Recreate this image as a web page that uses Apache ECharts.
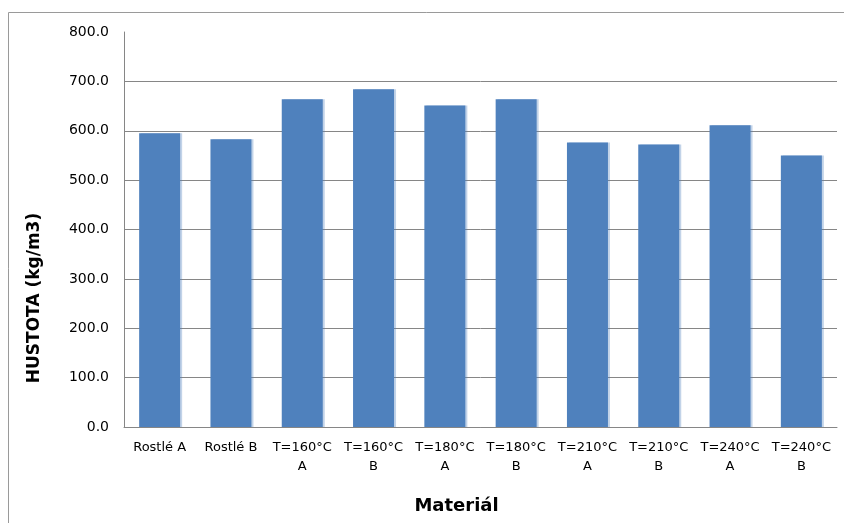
<!DOCTYPE html>
<html>
<head>
<meta charset="utf-8">
<script src="https://cdn.jsdelivr.net/npm/echarts@6/dist/echarts.min.js"></script>
<style>
html, body { margin: 0; padding: 0; background: #fff; }
#chart { width: 844px; height: 523px; }
</style>
</head>
<body>
<div id="chart"></div>
<script>
const categories = ["Rostlé A", "Rostlé B", "T=160°C\nA", "T=160°C\nB", "T=180°C\nA", "T=180°C\nB", "T=210°C\nA", "T=210°C\nB", "T=240°C\nA", "T=240°C\nB"];
const density = [595, 583, 664, 684, 651, 664, 576, 572, 611, 550];
const yTicks = { min: 0, max: 800, interval: 100 };

const chart = echarts.init(document.getElementById("chart"));
const font = "DejaVu Sans";

const option = {
    backgroundColor: "#ffffff",
    animation: false,
    grid: { left: 124, right: 7, top: 32, bottom: 96 },
    graphic: [{
        type: "rect",
        shape: { x: 8.5, y: 12.5, width: 900, height: 600 },
        style: { fill: "none", stroke: "#9a9a9a", lineWidth: 1 },
        silent: true
    }, {
        type: "text",
        x: 35,
        y: 298,
        rotation: Math.PI / 2,
        style: {
            text: "HUSTOTA (kg/m3)",
            font: "bold 17px " + font,
            fill: "#000",
            align: "center",
            verticalAlign: "middle"
        }
    }],
    xAxis: {
        type: "category",
        data: categories,
        name: "Materiál",
        nameLocation: "middle",
        nameGap: 70,
        nameTextStyle: { fontFamily: font, fontWeight: "bold", fontSize: 18, color: "#000", padding: [0, 48, 0, 0] },
        axisLine: { lineStyle: { color: "#868686", width: 1 } },
        axisTick: { show: false },
        axisLabel: { fontFamily: font, fontSize: 13, color: "#000", margin: 11, lineHeight: 19, interval: 0 }
    },
    yAxis: {
        type: "value",
        min: yTicks.min,
        max: yTicks.max,
        interval: yTicks.interval,
        axisLine: { show: true, lineStyle: { color: "#868686", width: 1 } },
        axisTick: { show: false },
        axisLabel: {
            fontFamily: font, fontSize: 14, color: "#000", margin: 15,
            formatter: v => v.toFixed(1)
        },
        splitLine: { show: true, showMaxLine: false, lineStyle: { color: "#868686", width: 1 } }
    },
    series: [{
        type: "bar",
        data: density,
        barWidth: 41,
        itemStyle: {
            color: "#4f81bd",
            shadowColor: "rgba(79,129,189,0.35)",
            shadowOffsetX: 2,
            shadowBlur: 0
        }
    }]
};
chart.setOption(option);
</script>
</body>
</html>
